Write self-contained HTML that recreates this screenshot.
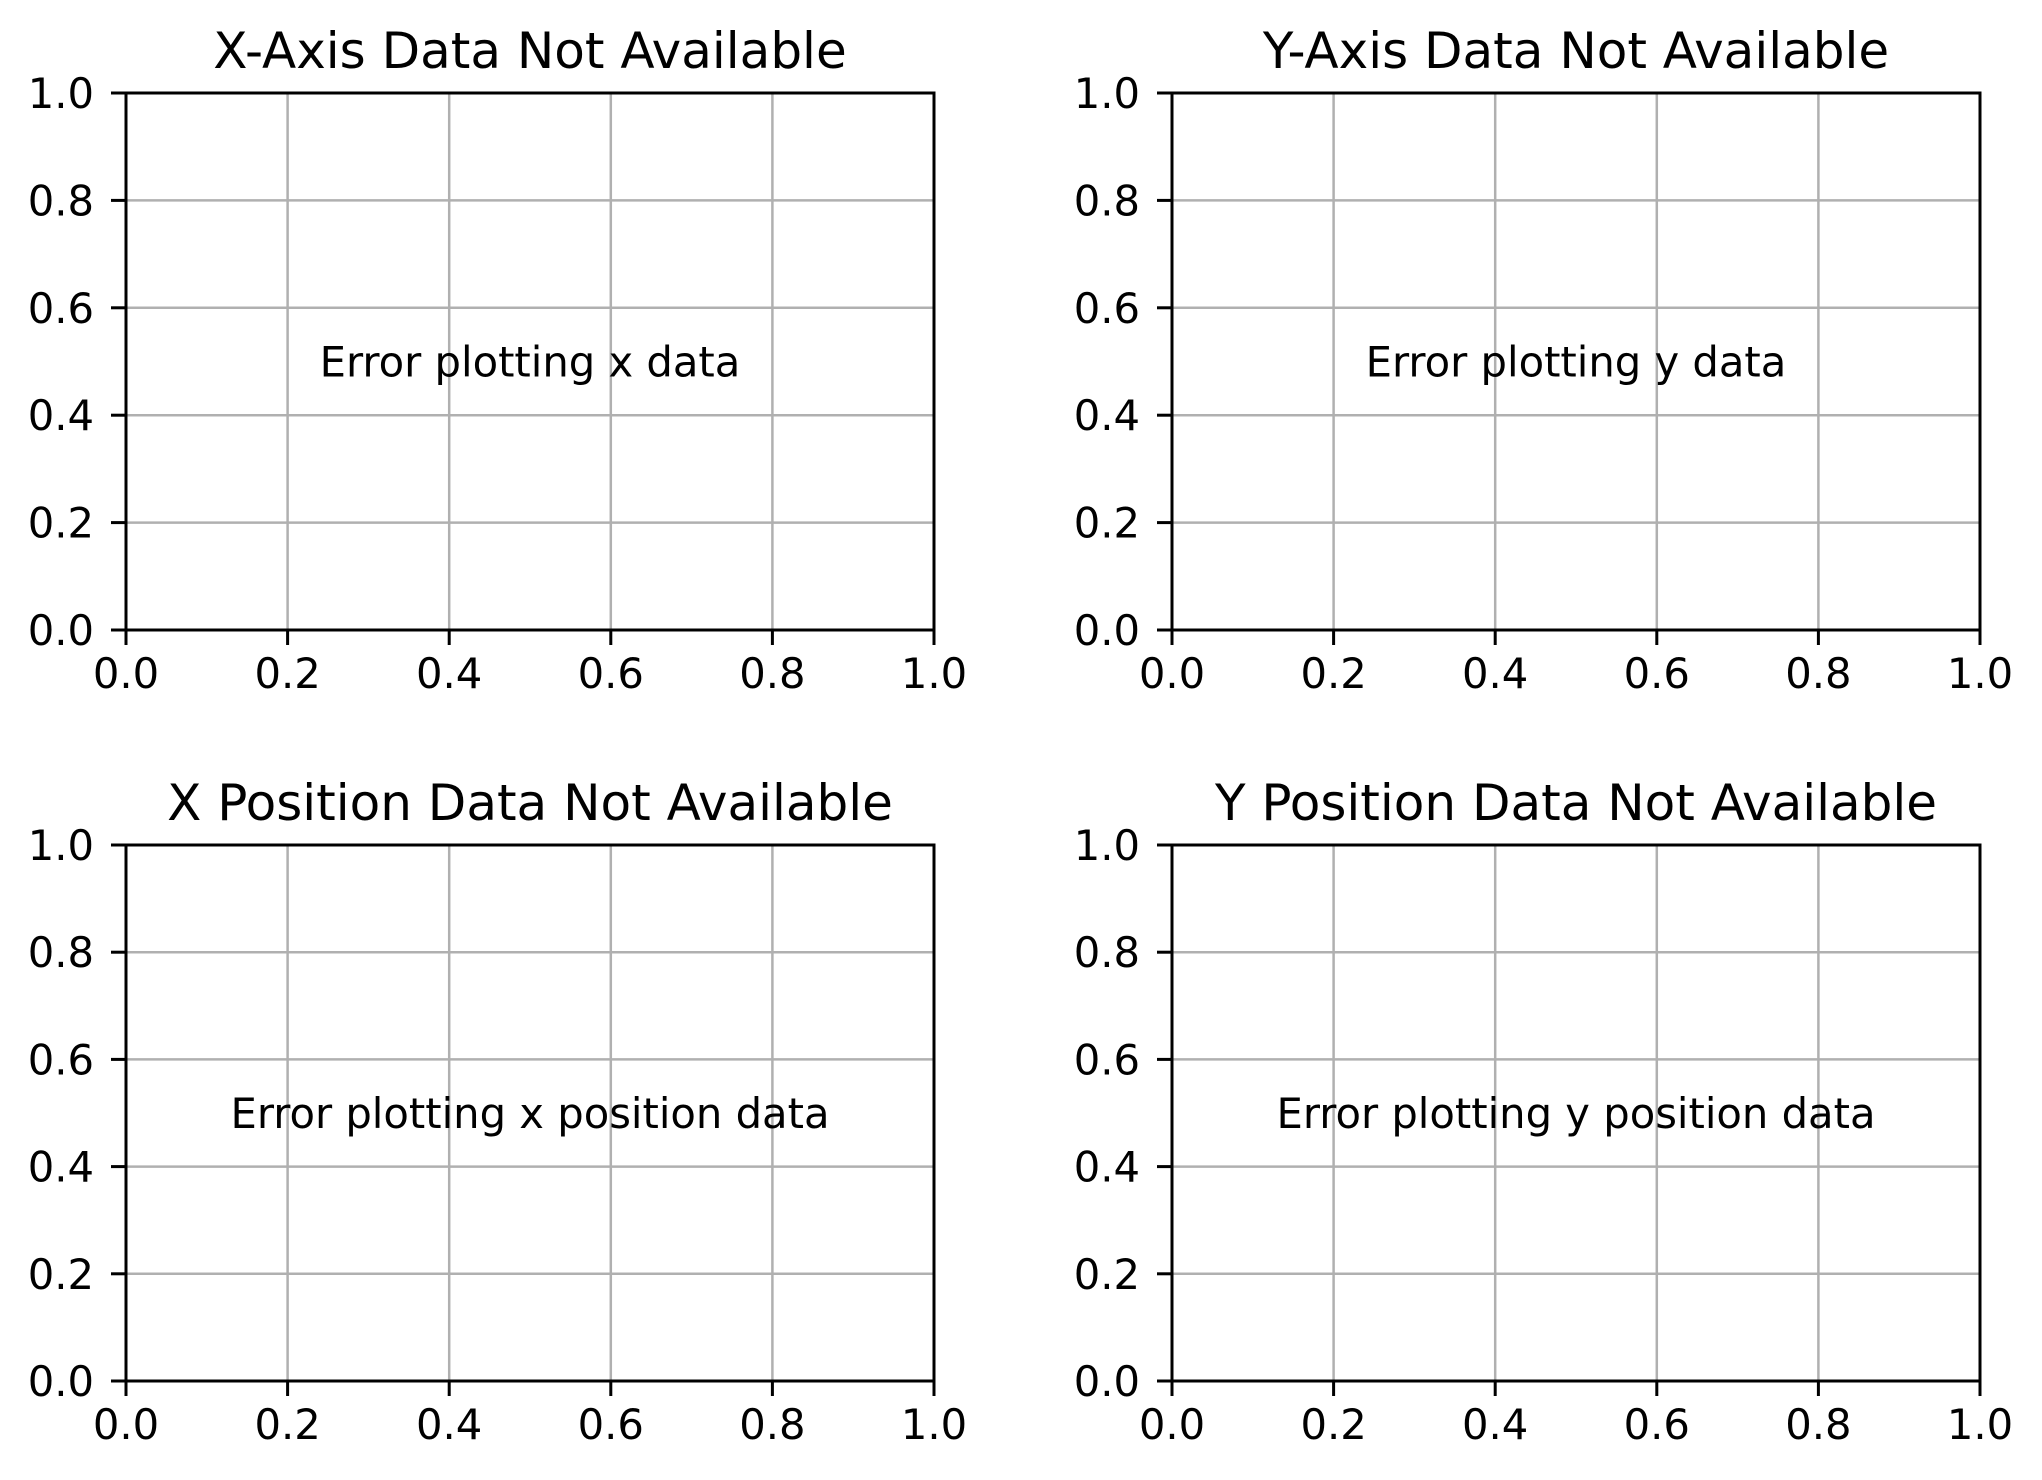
<!DOCTYPE html>
<html><head><meta charset="utf-8"><style>
html,body{margin:0;padding:0;background:#fff;}
svg{display:block;}
text{font-family:"DejaVu Sans","Liberation Sans",sans-serif;fill:#000;}
</style></head><body>
<svg id="fig" width="2042" height="1480" viewBox="0 0 2042 1480" xmlns="http://www.w3.org/2000/svg">
<rect width="2042" height="1480" fill="#fff"/>
</svg>
<script>
const panelTitles = ["X-Axis Data Not Available","Y-Axis Data Not Available","X Position Data Not Available","Y Position Data Not Available"];
const panelMessages = ["Error plotting x data","Error plotting y data","Error plotting x position data","Error plotting y position data"];
const xTicks = [0,0.2,0.4,0.6,0.8,1.0];
const yTicks = [0,0.2,0.4,0.6,0.8,1.0];
const xTickLabels = ["0.0","0.2","0.4","0.6","0.8","1.0"];
const yTickLabels = ["0.0","0.2","0.4","0.6","0.8","1.0"];

const NS="http://www.w3.org/2000/svg";
const svg=document.getElementById('fig');
const boxes=[[126,93,934,630],[1172,93,1980,630],[126,845,934,1381],[1172,845,1980,1381]];
function mk(tag,attrs,parent){const e=document.createElementNS(NS,tag);for(const k in attrs)e.setAttribute(k,attrs[k]);parent.appendChild(e);return e;}
boxes.forEach((b,i)=>{
  const [L,T,R,B]=b;
  const sx=v=>L+(R-L)*v, sy=v=>B-(B-T)*v;
  const g=mk('g',{},svg);
  
  
  xTicks.forEach((v,j)=>{
    const l=mk('line',{x1:sx(v),x2:sx(v),y1:T,y2:B,stroke:'#b0b0b0','stroke-width':2.5},g);
    
    
    const t=mk('line',{x1:sx(v),x2:sx(v),y1:B,y2:B+15,stroke:'#000','stroke-width':3},g);
    
    
    const tx=mk('text',{x:sx(v),y:B+58,'font-size':41.7,'text-anchor':'middle'},g);
    tx.textContent=xTickLabels[j];
    
    
  });
  yTicks.forEach((v,j)=>{
    const l=mk('line',{x1:L,x2:R,y1:sy(v),y2:sy(v),stroke:'#b0b0b0','stroke-width':2.5},g);
    
    
    const t=mk('line',{x1:L-15,x2:L,y1:sy(v),y2:sy(v),stroke:'#000','stroke-width':3},g);
    
    
    const tx=mk('text',{x:L-32,y:sy(v)+15,'font-size':41.7,'text-anchor':'end'},g);
    tx.textContent=yTickLabels[j];
    
    
  });
  const fr=mk('rect',{x:L,y:T,width:R-L,height:B-T,fill:'none',stroke:'#000','stroke-width':3},g);
  
  
  const ti=mk('text',{x:(L+R)/2,y:T-25,'font-size':50,'text-anchor':'middle'},g);
  ti.textContent=panelTitles[i];
  
  
  const m=mk('text',{x:sx(0.5),y:sy(0.5)+15,'font-size':41.7,'text-anchor':'middle'},g);
  m.textContent=panelMessages[i];
  
  
});
</script>
</body></html>
